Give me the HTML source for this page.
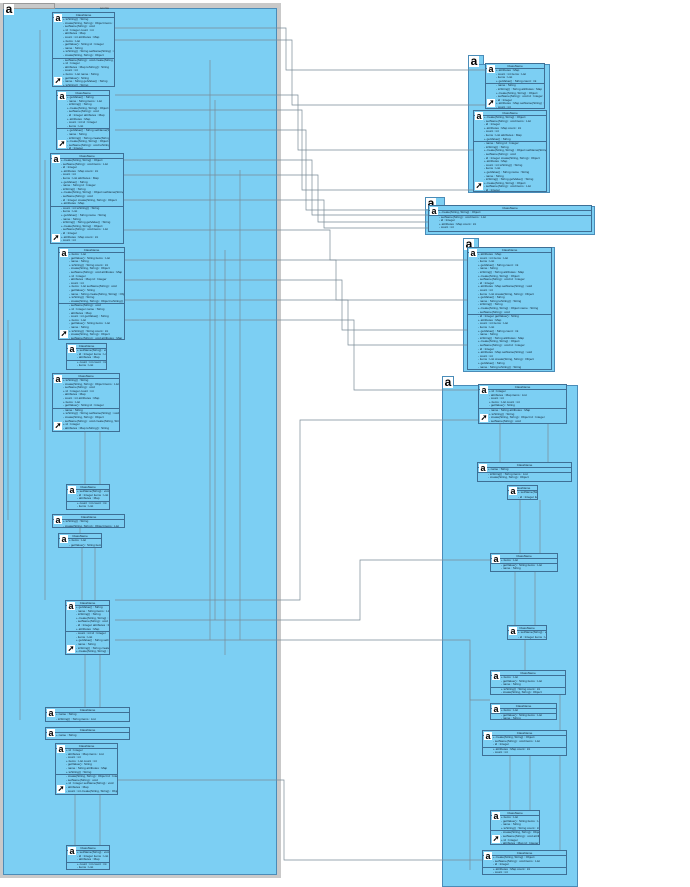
<!DOCTYPE html>
<html><head><meta charset="utf-8">
<style>
html,body{margin:0;padding:0;width:690px;height:887px;overflow:hidden;background:#fff;position:relative;font-family:"Liberation Sans",sans-serif}
.abs{position:absolute;box-sizing:border-box}
.pkg{background:#7ccff3;border:1px solid #4a8cb8}
.tab{background:#7ccff3;border:1px solid #4a8cb8;border-bottom:none}
.cls{background:#7ccff3;border:1px solid #3e6f95;overflow:hidden;z-index:3}
.t{position:absolute;left:0;right:0;font-size:3px;line-height:3.5px;color:#123;white-space:nowrap;padding-left:10px}
.h{position:absolute;left:0;right:0;top:0;height:4px;border-bottom:1px solid #3e6f95;font-size:3px;text-align:center;color:#123}
.sep{position:absolute;left:0;right:0;border-top:1px solid #3e6f95}
.ic{position:absolute;background:#fff;color:#000;font-weight:bold;font-size:9px;line-height:8px;width:8px;height:8px;text-align:center}
.bigic{position:absolute;background:#fff;color:#000;font-weight:bold;font-size:12px;line-height:11px;width:10px;height:11px;text-align:center;z-index:3}
svg{position:absolute;left:0;top:0;z-index:2}
</style></head><body>
<div class="abs" style="left:0;top:3px;width:281px;height:875px;background:#c9c9c9"></div>
<div class="abs" style="left:3px;top:8px;width:274px;height:867px;background:#7ccff3;border:1px solid #4a8cb8"></div>
<div class="abs" style="left:3px;top:3px;width:52px;height:6px;background:#c9c9c9;border:1px solid #999"></div>
<div class="bigic" style="left:4px;top:4px">a</div>
<div class="abs" style="left:100px;top:6px;font-size:3px;color:#333">source</div>
<div id="pk"></div>
<svg width="690" height="887" id="s"></svg>
<div id="root"></div>
<script>
const pk=document.getElementById('pk');
const root=document.getElementById('root');
function pkg(x,y,w,h,tw){
 pk.insertAdjacentHTML('beforeend',`<div class="abs tab" style="left:${x}px;top:${y}px;width:${tw}px;height:10px"></div><div class="abs pkg" style="left:${x}px;top:${y+9}px;width:${w}px;height:${h-9}px"></div><div class="bigic" style="left:${x+1}px;top:${y+1}px">a</div><div class="abs" style="left:${x}px;top:${y+10}px;width:${w}px;text-align:center;font-size:3px;color:#123">target</div>`);
}
const words=["name : String","id : Integer","getValue() : String","setName(String) : void","items : List<String>","create(String, String) : Object","count : int","toString() : String","attributes : Map<String,String>"];
function cls(x,y,w,h,sepFrac,arrow){
 let s=`<div class="abs cls" style="left:${x}px;top:${y}px;width:${w}px;height:${h}px"><div class="h">ClassName</div>`;
 let n=Math.floor((h-6)/3.6);
 let sp=Math.floor(n*(sepFrac||0.6));
 for(let i=0;i<n;i++){
  let w2=words[(i*7+x)%words.length];
  let txt=(i%3==0?"+ ":"- ")+w2+(i%2?" "+words[(i+3)%words.length]:"");
  s+=`<div class="t" style="top:${5+i*3.6+(i>=sp?1:0)}px">${txt}</div>`;
 }
 if(h>16) s+=`<div class="sep" style="top:${5+sp*3.6}px"></div>`;
 s+=`<div class="ic" style="left:1px;top:1px">a</div>`;
 if(arrow&&h>30) s+=`<div class="ic" style="left:1px;top:${h-11}px;font-size:8px">➚</div>`;
 s+=`</div>`;
 root.insertAdjacentHTML('beforeend',s);
}
[[52,12,63,75],[56,90,54,60],[50,153,74,91],[58,247,67,93],[66,343,41,27],[52,373,68,59],[66,484,44,26],[52,514,73,14],[58,533,44,15],[65,600,45,55],[45,707,85,15],[45,727,85,13],[55,743,63,52],[66,845,44,25]].forEach(c=>cls(c[0],c[1],c[2],c[3],0.6,true));
pkg(468,55,82,138,16);
cls(485,63,60,46,0.4,true);cls(473,110,74,82,0.35,true);
pkg(425,197,170,38,20);
cls(428,205,164,27,0.3,true);
pkg(463,238,92,134,16);
cls(467,247,85,123,0.55,false);
pkg(442,376,136,511,12);
[[478,384,89,40],[477,462,95,20],[507,485,31,15],[490,553,68,19],[507,625,40,15],[490,670,76,25],[490,703,67,17],[482,730,85,26],[490,810,50,35],[482,850,85,25]].forEach(c=>cls(c[0],c[1],c[2],c[3],0.6,true));
const S=document.getElementById('s');
let p='';
function L(pts){p+=`<polyline points="${pts}" fill="none" stroke="#7a8a96" stroke-width="0.7"/>`;}
const rows=[[28,70,286,485],[40,105,292,485],[95,150,298,485],[110,190,302,473],[130,210,306,428],[160,215,312,428],[175,222,318,428],[200,228,324,428],[230,260,330,467],[260,300,336,467],[280,330,342,467],[300,345,348,467],[320,390,354,478],[600,420,300,478],[620,560,360,490],[780,860,284,482],[640,700,470,490]];
rows.forEach(r=>{L(`115,${r[0]} 278,${r[0]} ${r[2]},${r[0]} ${r[2]},${r[1]} ${r[3]},${r[1]}`);});
[[40,30,430],[45,160,600],[210,60,640],[215,100,620],[225,250,655],[240,170,640],[8,320,520],[20,340,720]].forEach(v=>L(`${v[0]},${v[1]} ${v[0]},${v[2]}`));
[[85,432,484],[100,432,484],[80,528,533],[82,548,600],[95,548,600],[85,655,707],[100,655,707],[75,795,845],[100,795,845]].forEach(v=>L(`${v[0]},${v[1]} ${v[0]},${v[2]}`));
[[500,424,462],[548,424,462],[520,500,553],[540,500,553],[515,572,625],[535,572,625],[525,640,670],[510,756,810],[530,756,810],[470,650,870],[560,680,850]].forEach(v=>L(`${v[0]},${v[1]} ${v[0]},${v[2]}`));
S.innerHTML=p;
</script>
</body></html>
